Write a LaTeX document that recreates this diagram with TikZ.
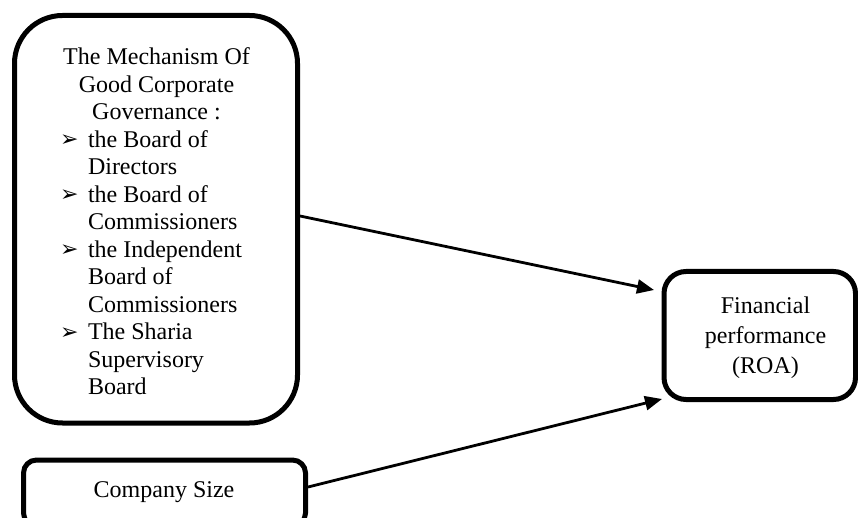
\documentclass[tikz,border=0pt]{standalone}
\usepackage{fontspec}
\setmainfont{Liberation Serif}
\newfontfamily\symfont{DejaVu Sans}
\usetikzlibrary{arrows.meta}
\newcommand{\bul}{\hspace*{18.5pt}\makebox[28pt][l]{\raisebox{0.5pt}{\symfont\fontsize{22}{22}\selectfont ➢}}}
\newcommand{\ind}{\hspace*{46.5pt}}
\tikzset{
  boxstyle/.style={draw=black, line width=5pt, fill=white, inner sep=0pt},
  bigbox/.style={boxstyle, rounded corners=48pt},
  sizebox/.style={boxstyle, rounded corners=13pt},
  finbox/.style={boxstyle, rounded corners=22pt},
  txt/.style={inner sep=0pt, font=\fontsize{24}{27.5}\selectfont},
  link/.style={draw=black, line width=2.8pt, -{Triangle[length=17pt,width=14pt]}}
}
\begin{document}
\begin{tikzpicture}[x=1pt,y=-1pt]
\useasboundingbox (0,0) rectangle (858,518);
% boxes
\node[bigbox, minimum width=283pt, minimum height=407.5pt] (gcg) at (156,219.25) {};
\node[sizebox, minimum width=282pt, minimum height=66pt] (size) at (164.5,493) {};
\node[finbox, minimum width=191.5pt, minimum height=128pt] (fin) at (759.75,335.5) {};
% texts
\node[txt, anchor=base] (gcgtext) at (156.5,65) {\begin{minipage}[t]{230pt}\fontsize{24}{27.5}\selectfont
\centering The Mechanism Of\\Good Corporate\\Governance :\par
\raggedright
\bul the Board of\\
\ind Directors\\
\bul the Board of\\
\ind Commissioners\\
\bul the Independent\\
\ind Board of\\
\ind Commissioners\\
\bul The Sharia\\
\ind Supervisory\\
\ind Board\par
\end{minipage}};
\node[txt, anchor=base] (sizetext) at (164,497) {Company Size};
\node[inner sep=0pt, anchor=base, font=\fontsize{24}{30}\selectfont] (fintext) at (765.5,313)
  {\begin{tabular}[t]{@{}c@{}}Financial\\performance\\(ROA)\end{tabular}};
% connectors
\coordinate (s1) at (300,216);
\coordinate (e1) at (654,290);
\coordinate (s2) at (308,487);
\coordinate (e2) at (662,399);
\draw[link] (s1) -- (e1);
\draw[link] (s2) -- (e2);
\end{tikzpicture}
\end{document}
